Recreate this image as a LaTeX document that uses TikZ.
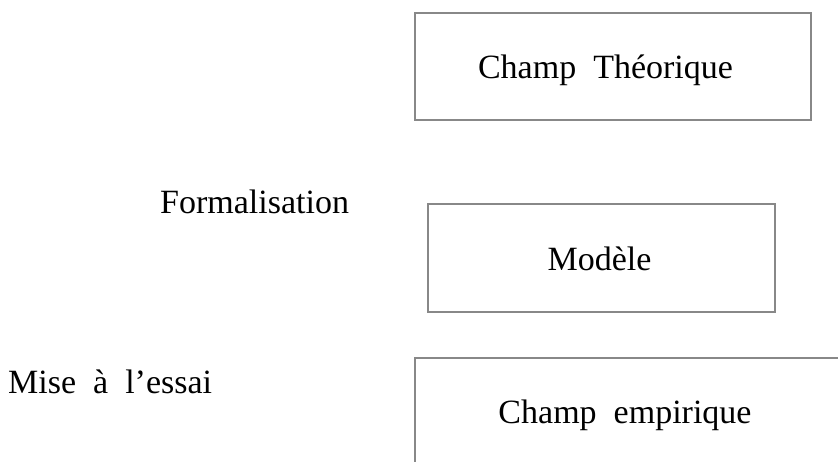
\documentclass[tikz,border=0pt]{standalone}
\usepackage{fontspec}
\setmainfont{Liberation Serif}
\definecolor{boxgray}{RGB}{136,136,136}
\begin{document}
\begin{tikzpicture}[x=1pt,y=-1pt,
  box/.style={draw=boxgray, line width=1.5pt, rectangle, inner sep=0pt},
  lbl/.style={inner sep=0pt, font=\fontsize{34}{40}\selectfont, anchor=base}]
\useasboundingbox (0,0) rectangle (838,461);
\clip (0,0) rectangle (838,461);
\fill[white] (0,0) rectangle (838,461);
% boxes
\node[box, minimum width=396pt, minimum height=107pt] (b1) at (613,66.5) {};
\node[box, minimum width=347pt, minimum height=108pt] (b2) at (601.5,258) {};
\node[box, minimum width=445pt, minimum height=122pt] (b3) at (637.5,419) {};
% texts
\node[lbl] (t1) at (605.5,78) {Champ\ \ Théorique};
\node[lbl] (t2) at (599.5,270) {Modèle};
\node[lbl] (t3) at (625,423) {Champ\ \ empirique};
\node[lbl, anchor=base west] (f) at (160,213) {Formalisation};
\node[lbl, anchor=base west] (m) at (8,393) {Mise\ \ à\ \ l’essai};
\end{tikzpicture}
\end{document}
